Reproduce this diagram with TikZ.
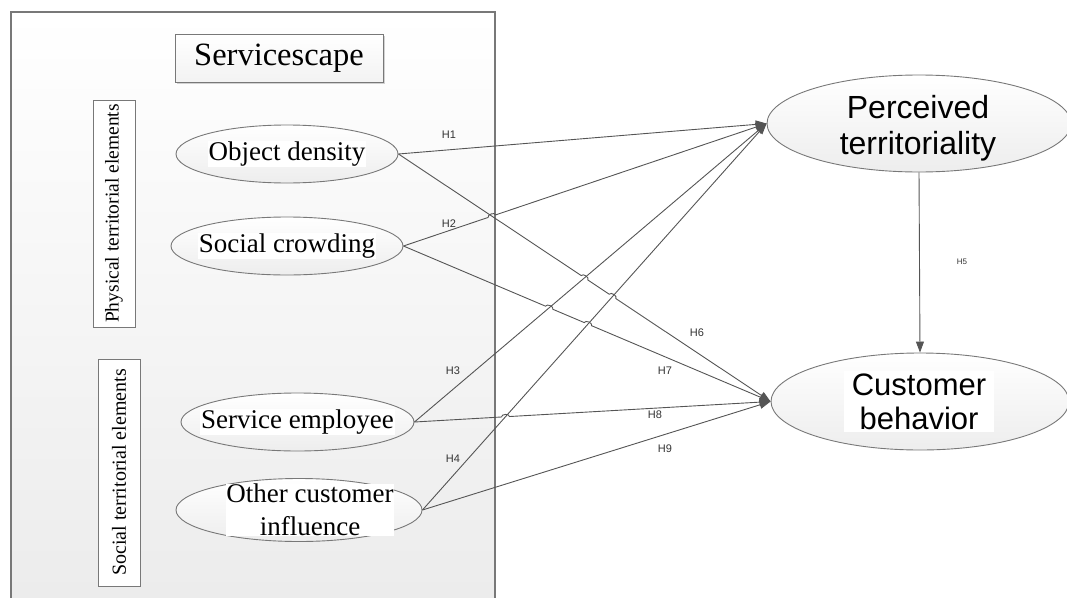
\documentclass[tikz,border=0pt]{standalone}
\usepackage{fontspec}
\setmainfont{Liberation Serif}
\newfontfamily\arialf{Liberation Sans}
\usetikzlibrary{arrows.meta,calc,intersections,shapes.geometric}
\definecolor{lc}{HTML}{555555}
\definecolor{bc}{HTML}{787878}
\begin{document}
\begin{tikzpicture}[x=1pt,y=-1pt,
  ell/.style={ellipse, draw=bc, line width=0.9pt, top color=white, bottom color=gray!14, inner sep=0pt},
  serif/.style={font=\fontsize{27}{33}\selectfont, fill=white, inner sep=1pt, align=center},
  big/.style={font=\arialf\fontsize{32}{36}\selectfont, align=center, inner sep=0pt},
  hlab/.style={font=\arialf\fontsize{11}{12}\selectfont, text=black!80, inner sep=0pt},
  conn/.style={draw=lc, line width=0.9pt, -{Triangle[length=11pt,width=8pt]}},
  vbox/.style={draw=bc, line width=0.9pt, fill=white, minimum width=42pt, minimum height=227pt, inner sep=0pt}
]
\useasboundingbox (0,0) rectangle (1067,597);
\clip (0,0) rectangle (1067,597);
% big panel
\path[draw=bc, line width=1.3pt, top color=white, bottom color=gray!16] (11,12) rectangle (495,640);
% Servicescape title
\fill[gray!35] (177,36) rectangle (385,84);
\node[draw=bc, line width=0.9pt, top color=white, bottom color=gray!10, minimum width=208pt, minimum height=48pt, inner sep=0pt,
      font=\fontsize{32.5}{34}\selectfont] (title) at (279,58) {Servicescape};
% vertical group labels
\node[vbox] (phys) at (114,213.5) {};
\node[rotate=90, font=\fontsize{19.5}{22}\selectfont, inner sep=0pt] (physt) at (phys) {Physical territorial elements};
\node[vbox] (soc) at (119,472.5) {};
\node[rotate=90, font=\fontsize{20}{22}\selectfont, inner sep=0pt] (soct) at (soc) {Social territorial elements};
% left ellipses
\node[ell, minimum width=222pt, minimum height=58pt] (od) at (287,154) {};
\node[serif] (odt) at (od) {Object density};
\node[ell, minimum width=232pt, minimum height=58pt] (sc) at (287,246) {};
\node[serif] (sct) at (sc) {Social crowding};
\node[ell, minimum width=233pt, minimum height=58pt] (se) at (297.5,422) {};
\node[serif] (set) at (se) {Service employee};
\node[ell, minimum width=246pt, minimum height=63pt] (oc) at (299,510) {};
\node[serif, inner sep=0pt] (oct) at (310,510) {Other customer\\influence};
% right ellipses
\node[ell, minimum width=304pt, minimum height=97pt] (pt) at (919,123.5) {};
\node[big] (ptt) at (918,128) {Perceived\\territoriality};
\node[ell, minimum width=298pt, minimum height=97pt] (cb) at (920,401.5) {};
\node[big, font=\arialf\fontsize{31}{34}\selectfont, fill=white, inner xsep=8pt, inner ysep=3pt] (cbt) at (919,401.5) {Customer\\behavior};
% invisible paths for crossings
\path[name path=l2] (sc.east) -- (pt.west);
\path[name path=l3] (se.east) -- (pt.west);
\path[name path=l4] (oc.east) -- (pt.west);
\path[name path=l6] (od.east) -- (cb.west);
\path[name path=l7] (sc.east) -- (cb.west);
\path[name path=l8] (se.east) -- (cb.west);
\path[name intersections={of=l2 and l6, by=x26}];
\path[name intersections={of=l6 and l3, by=x63}];
\path[name intersections={of=l6 and l4, by=x64}];
\path[name intersections={of=l7 and l3, by=x73}];
\path[name intersections={of=l7 and l4, by=x74}];
\path[name intersections={of=l8 and l4, by=x84}];
% connectors
\draw[conn] (od.east) -- (pt.west);
\draw[conn] (sc.east) -- ($(x26)!4pt!(sc.east)$) to[bend left=90] ($(x26)!4pt!(pt.west)$) -- (pt.west);
\draw[conn] (se.east) -- (pt.west);
\draw[conn] (oc.east) -- (pt.west);
\draw[conn] (pt.south) -- (cb.north);
\draw[conn] (od.east) -- ($(x63)!4pt!(od.east)$) to[bend left=90] ($(x63)!4pt!(cb.west)$)
  -- ($(x64)!4pt!(od.east)$) to[bend left=90] ($(x64)!4pt!(cb.west)$) -- (cb.west);
\draw[conn] (sc.east) -- ($(x73)!4pt!(sc.east)$) to[bend left=90] ($(x73)!4pt!(cb.west)$)
  -- ($(x74)!4pt!(sc.east)$) to[bend left=90] ($(x74)!4pt!(cb.west)$) -- (cb.west);
\draw[conn] (se.east) -- ($(x84)!4pt!(se.east)$) to[bend left=90] ($(x84)!4pt!(cb.west)$) -- (cb.west);
\draw[conn] (oc.east) -- (cb.west);
% labels
\node[hlab] (h1) at (449,135) {H1};
\node[hlab] (h2) at (449,224) {H2};
\node[hlab] (h3) at (453,371) {H3};
\node[hlab] (h4) at (453,459) {H4};
\node[hlab, font=\arialf\fontsize{8}{9}\selectfont] (h5) at (962,262) {H5};
\node[hlab] (h6) at (697,333) {H6};
\node[hlab] (h7) at (665,371) {H7};
\node[hlab] (h8) at (655,415) {H8};
\node[hlab] (h9) at (665,449) {H9};
\end{tikzpicture}
\end{document}
